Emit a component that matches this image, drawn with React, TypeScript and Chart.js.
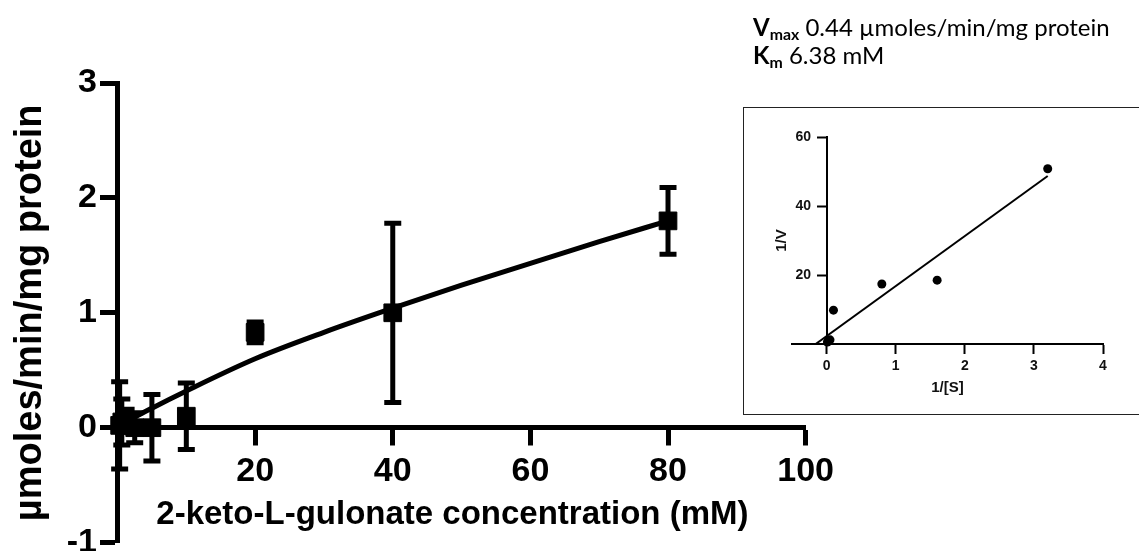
import React, { useEffect, useRef } from "react";
import { Chart, registerables } from "chart.js";

Chart.register(...registerables);

// ---- Main chart data (Michaelis–Menten plot) ----
const conc = [0.3125, 0.625, 1.25, 2.5, 5, 10, 20, 40, 80];
const rate = [0.02, 0.05, 0.06, 0.0, 0.0, 0.1, 0.83, 1.0, 1.8];
const rateSd = [0.38, 0.2, 0.1, 0.13, 0.29, 0.29, 0.09, 0.78, 0.29];
const fitX = [0.3125, 2.5, 5, 10, 20, 30, 40, 50, 60, 70, 80];
const fitY = [0.01, 0.09, 0.17, 0.32, 0.6, 0.83, 1.04, 1.24, 1.43, 1.62, 1.8];
const mainXTicks = [20, 40, 60, 80, 100];
const mainYTicks = [-1, 0, 1, 2, 3];

// ---- Inset data (Lineweaver–Burk plot) ----
const invS = [3.2, 1.6, 0.8, 0.1, 0.05, 0.025, 0.0125];
const invV = [50.8, 18.5, 17.4, 9.8, 1.2, 1.0, 0.56];
const lbLineX = [-0.157, 3.2];
const lbLineY = [0, 48.7];
const insetXTicks = [0, 1, 2, 3, 4];
const insetYTicks = [20, 40, 60];

const FONT = "'Liberation Sans', Arial, Helvetica, sans-serif";

const errorBars = {
  id: "errorBars",
  beforeDatasetsDraw(chart: any) {
    const { ctx, scales } = chart;
    const x = scales.x;
    const y = scales.y;
    ctx.save();
    ctx.strokeStyle = "#000";
    ctx.lineWidth = 5;
    ctx.lineCap = "butt";
    const cap = 8.5;
    conc.forEach((c, i) => {
      const px = x.getPixelForValue(c);
      const top = y.getPixelForValue(rate[i] + rateSd[i]);
      const bot = y.getPixelForValue(rate[i] - rateSd[i]);
      ctx.beginPath();
      ctx.moveTo(px, top);
      ctx.lineTo(px, bot);
      ctx.moveTo(px - cap, top);
      ctx.lineTo(px + cap, top);
      ctx.moveTo(px - cap, bot);
      ctx.lineTo(px + cap, bot);
      ctx.stroke();
    });
    ctx.restore();
  },
};

function MainChart() {
  const ref = useRef<HTMLCanvasElement>(null);
  useEffect(() => {
    if (!ref.current) return;
    const chart = new Chart(ref.current, {
      type: "scatter",
      data: {
        datasets: [
          {
            type: "line",
            data: fitX.map((v, i) => ({ x: v, y: fitY[i] })),
            borderColor: "#000",
            borderWidth: 5,
            pointRadius: 0,
            cubicInterpolationMode: "monotone",
            fill: false,
            order: 2,
          } as any,
          {
            type: "scatter",
            data: conc.map((v, i) => ({ x: v, y: rate[i] })),
            pointStyle: "rect",
            pointRadius: 12.5,
            backgroundColor: "#000",
            borderColor: "#000",
            borderWidth: 1,
            clip: false,
            order: 1,
          } as any,
        ],
      },
      plugins: [errorBars],
      options: {
        animation: false,
        responsive: false,
        maintainAspectRatio: false,
        events: [],
        layout: { padding: { top: 83, right: 25, bottom: 0, left: 0 }, autoPadding: false } as any,
        plugins: { legend: { display: false }, tooltip: { enabled: false } },
        scales: {
          x: {
            type: "linear",
            position: { y: 0 } as any,
            min: 0,
            max: 100,
            afterBuildTicks: (s: any) => {
              s.ticks = mainXTicks.map((v) => ({ value: v }));
            },
            ticks: {
              color: "#000",
              font: { family: FONT, size: 34, weight: "bold" },
              padding: 8,
              maxRotation: 0,
              autoSkip: false,
            },
            grid: {
              display: true,
              drawOnChartArea: false,
              drawTicks: true,
              tickLength: 15.5,
              tickWidth: 5,
              tickColor: "#000",
            },
            border: { display: true, color: "#000", width: 5 },
            title: {
              display: true,
              text: "2-keto-L-gulonate concentration (mM)  ",
              color: "#000",
              font: { family: FONT, size: 33, weight: "bold" },
              padding: 0,
            },
            afterFit: (s: any) => {
              s.height = 107;
            },
          } as any,
          y: {
            type: "linear",
            position: "left",
            min: -1,
            max: 3,
            afterBuildTicks: (s: any) => {
              s.ticks = mainYTicks.map((v) => ({ value: v }));
            },
            ticks: {
              color: "#000",
              font: { family: FONT, size: 34, weight: "bold" },
              padding: 3,
            },
            grid: {
              display: true,
              drawOnChartArea: false,
              drawTicks: true,
              tickLength: 17.5,
              tickWidth: 5,
              tickColor: "#000",
            },
            border: { display: true, color: "#000", width: 5 },
            title: {
              display: true,
              text: "µmoles/min/mg protein",
              color: "#000",
              font: { family: FONT, size: 38, weight: "bold" },
              padding: { top: 8, bottom: 0 },
            },
            afterFit: (s: any) => {
              s.width = 117.5;
            },
          } as any,
        },
      },
    });
    return () => chart.destroy();
  }, []);
  return (
    <canvas
      ref={ref}
      width={842}
      height={566}
      style={{ position: "absolute", left: 0, top: 0, width: 842, height: 566 }}
    />
  );
}

function InsetChart() {
  const ref = useRef<HTMLCanvasElement>(null);
  useEffect(() => {
    if (!ref.current) return;
    const chart = new Chart(ref.current, {
      type: "scatter",
      data: {
        datasets: [
          {
            type: "line",
            data: lbLineX.map((v, i) => ({ x: v, y: lbLineY[i] })),
            borderColor: "#000",
            borderWidth: 2,
            pointRadius: 0,
            fill: false,
            yAxisID: "y",
          } as any,
          {
            type: "scatter",
            data: invS.map((v, i) => ({ x: v, y: invV[i] })),
            pointRadius: 4.5,
            backgroundColor: "#000",
            borderColor: "#000",
            borderWidth: 0,
            clip: false,
            yAxisID: "y",
          } as any,
        ],
      },
      options: {
        animation: false,
        responsive: false,
        maintainAspectRatio: false,
        events: [],
        layout: { padding: { top: 30, right: 36, bottom: 18, left: 0 }, autoPadding: false } as any,
        plugins: { legend: { display: false }, tooltip: { enabled: false } },
        scales: {
          x: {
            type: "linear",
            position: "bottom",
            min: -0.5,
            max: 4,
            afterBuildTicks: (s: any) => {
              s.ticks = insetXTicks.map((v) => ({ value: v }));
            },
            ticks: {
              color: "#111",
              font: { family: FONT, size: 14, weight: "bold" },
              padding: 4,
              maxRotation: 0,
              autoSkip: false,
            },
            grid: {
              display: true,
              drawOnChartArea: false,
              drawTicks: true,
              tickLength: 10,
              tickWidth: 2,
              tickColor: "#000",
            },
            border: { display: true, color: "#000", width: 2 },
            title: {
              display: true,
              text: "1/[S]",
              color: "#111",
              font: { family: FONT, size: 15, weight: "bold" },
              padding: 0,
            },
            afterFit: (s: any) => {
              s.height = 53;
            },
          } as any,
          y: {
            type: "linear",
            position: { x: 0 } as any,
            min: 0,
            max: 60,
            afterBuildTicks: (s: any) => {
              s.ticks = insetYTicks.map((v) => ({ value: v }));
            },
            ticks: {
              color: "#111",
              font: { family: FONT, size: 14, weight: "bold" },
              // labels of a value-positioned y axis are drawn flush against the axis;
              // trailing spaces keep them clear of the tick marks
              callback: (v: any) => String(v) + "    ",
            },
            grid: {
              display: true,
              drawOnChartArea: false,
              drawTicks: true,
              tickLength: 9,
              tickWidth: 2,
              tickColor: "#000",
            },
            border: { display: true, color: "#000", width: 2 },
            title: { display: false },
            afterFit: (s: any) => {
              s.width = 0;
            },
          } as any,
          yTitle: {
            type: "linear",
            position: "left",
            min: 0,
            max: 60,
            ticks: { display: false },
            grid: { display: false },
            border: { display: false },
            title: {
              display: true,
              text: "1/V",
              color: "#111",
              font: { family: FONT, size: 15, weight: "bold" },
              padding: { top: 30, bottom: 0 },
            },
            afterFit: (s: any) => {
              s.width = 49;
            },
          } as any,
        },
      },
    });
    return () => chart.destroy();
  }, []);
  return (
    <canvas
      ref={ref}
      width={396}
      height={308}
      style={{ position: "absolute", left: 743, top: 107, width: 396, height: 308 }}
    />
  );
}

export default function App() {
  const subStyle: React.CSSProperties = {
    fontSize: "0.66em",
    verticalAlign: "-0.28em",
    lineHeight: 0,
  };
  return (
    <div
      style={{
        position: "fixed",
        left: 0,
        top: 0,
        width: 1139,
        height: 551,
        overflow: "hidden",
        background: "#fff",
      }}
    >
      <MainChart />
      <div
        style={{
          position: "absolute",
          left: 743,
          top: 107,
          width: 420,
          height: 308,
          border: "1.5px solid #222",
          boxSizing: "border-box",
        }}
      />
      <InsetChart />
      <div
        style={{
          position: "absolute",
          left: 753,
          top: 13,
          font: "24px Lato, 'Open Sans', sans-serif",
          lineHeight: "28px",
          color: "#000",
          whiteSpace: "nowrap",
        }}
      >
        <div>
          <b>
            V<span style={subStyle}>max</span>
          </b>{" "}
          0.44 µmoles/min/mg protein
        </div>
        <div>
          <b>
            K<span style={subStyle}>m</span>
          </b>{" "}
          6.38 mM
        </div>
      </div>
    </div>
  );
}
